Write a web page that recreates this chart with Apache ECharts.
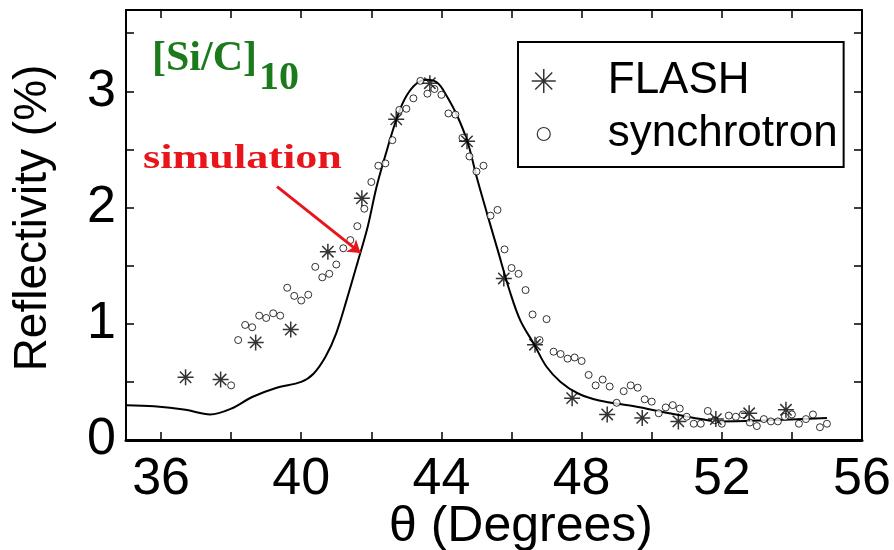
<!DOCTYPE html>
<html>
<head>
<meta charset="utf-8">
<script src="https://cdn.jsdelivr.net/npm/echarts@6/dist/echarts.min.js"></script>
<style>
  html, body { margin: 0; padding: 0; background: #fff; }
  #chart { width: 894px; height: 550px; }
</style>
</head>
<body>
<div id="chart"></div>
<script>
// ---- data ----
const flashX = [36.7, 37.7, 38.7, 39.7, 40.76, 41.73, 42.71, 43.67, 44.73, 45.78, 46.67, 47.73, 48.73, 49.73, 50.76, 51.83, 52.78, 53.83];
const flashY = [0.54, 0.52, 0.84, 0.95, 1.62, 2.08, 2.76, 3.07, 2.57, 1.39, 0.82, 0.36, 0.22, 0.19, 0.16, 0.18, 0.23, 0.26];

const syncX = [38.0, 38.2, 38.4, 38.6, 38.8, 39.0, 39.2, 39.4, 39.6, 39.8, 40.0, 40.2, 40.4, 40.6, 40.8, 41.0, 41.2, 41.4, 41.6, 41.8,
               42.0, 42.2, 42.4, 42.6, 42.8, 43.0, 43.2, 43.4, 43.6, 43.8, 44.0, 44.2, 44.4, 44.6, 44.8, 45.0, 45.2, 45.4, 45.6, 45.8,
               46.0, 46.2, 46.4, 46.6, 46.8, 47.0, 47.2, 47.4, 47.6, 47.8, 48.0, 48.2, 48.4, 48.6, 48.8, 49.0, 49.2, 49.4, 49.6, 49.8,
               50.0, 50.2, 50.4, 50.6, 50.8, 51.0, 51.2, 51.4, 51.6, 51.8, 52.0, 52.2, 52.4, 52.6, 52.8, 53.0, 53.2, 53.4, 53.6, 53.8,
               54.0, 54.2, 54.4, 54.6, 54.8, 55.0];
const syncY = [0.47, 0.86, 0.99, 0.97, 1.07, 1.05, 1.09, 1.07, 1.31, 1.24, 1.20, 1.25, 1.49, 1.40, 1.43, 1.51, 1.65, 1.72, 1.84, 1.99,
               2.22, 2.36, 2.38, 2.58, 2.84, 2.85, 2.94, 3.09, 2.98, 3.02, 2.97, 2.81, 2.80, 2.60, 2.44, 2.31, 2.36, 1.93, 1.98, 1.64,
               1.48, 1.43, 1.29, 1.08, 0.86, 1.04, 0.76, 0.74, 0.70, 0.71, 0.68, 0.56, 0.47, 0.52, 0.46, 0.32, 0.42, 0.47, 0.45, 0.35,
               0.33, 0.23, 0.28, 0.30, 0.27, 0.20, 0.14, 0.14, 0.25, 0.17, 0.14, 0.21, 0.20, 0.22, 0.15, 0.12, 0.18, 0.16, 0.16, 0.20,
               0.22, 0.14, 0.18, 0.22, 0.11, 0.14];

const simX = [35.0, 35.8, 36.7, 37.4, 38.0, 38.6, 39.3, 40.0, 40.35, 40.7, 41.0, 41.3, 41.6, 41.9, 42.15, 42.45, 42.75, 43.0, 43.3, 43.6,
              43.9, 44.15, 44.45, 44.75, 45.0, 45.3, 45.6, 45.95, 46.25, 46.65, 47.0, 47.4, 47.9, 48.5, 49.5, 50.5, 51.4, 51.9, 53.3, 55.0];
const simY = [0.30, 0.29, 0.26, 0.22, 0.27, 0.37, 0.45, 0.50, 0.57, 0.72, 0.92, 1.21, 1.52, 1.84, 2.18, 2.50, 2.79, 2.96, 3.07, 3.10,
              3.07, 2.96, 2.79, 2.56, 2.27, 1.95, 1.64, 1.28, 1.03, 0.82, 0.63, 0.50, 0.40, 0.34, 0.29, 0.23, 0.18, 0.16, 0.17, 0.19];

const xTicks = [36, 38, 40, 42, 44, 46, 48, 50, 52, 54, 56];
const xTickLabels = [36, 40, 44, 48, 52, 56];
const yTicks = [0, 0.5, 1, 1.5, 2, 2.5, 3, 3.5];
const yTickLabels = [0, 1, 2, 3];

const seriesNames = ['FLASH', 'synchrotron'];
const arrowFrom = [39.31, 2.18];
const arrowTo = [41.69, 1.61];

// ---- chart ----
const zip = (xs, ys) => xs.map((x, i) => [x, ys[i]]);
const asterisk = 'path://M12,0 L12,24 M0,12 L24,12 M3.5,3.5 L20.5,20.5 M3.5,20.5 L20.5,3.5';
const smallCircle = 'path://M0,0 M24,24 M5.5,12 A6.5,6.5 0 1,0 18.5,12 A6.5,6.5 0 1,0 5.5,12 Z';
const SANS = 'Liberation Sans, Arial, sans-serif';
const SERIF = 'Liberation Serif, Times New Roman, serif';

const chart = echarts.init(document.getElementById('chart'), null, { renderer: 'canvas' });

function tickStyle(values) {
  return { show: true, inside: true, length: 8, customValues: values, lineStyle: { color: '#000', width: 1.5 } };
}
const lineStyleAxis = (w) => ({ show: true, onZero: false, lineStyle: { color: '#000', width: w } });

const option = {
  animation: false,
  backgroundColor: '#fff',
  grid: { left: 126, right: 32, top: 10, bottom: 110, containLabel: false },
  xAxis: [
    {
      type: 'value', min: 35, max: 56, position: 'bottom',
      axisLine: lineStyleAxis(3), axisTick: tickStyle(xTicks), splitLine: { show: false },
      axisLabel: { customValues: xTickLabels, margin: 14, color: '#000', fontSize: 52, fontFamily: SANS }
    },
    {
      type: 'value', min: 35, max: 56, position: 'top',
      axisLine: lineStyleAxis(2), axisTick: tickStyle(xTicks), splitLine: { show: false },
      axisLabel: { show: false }
    }
  ],
  yAxis: [
    {
      type: 'value', min: 0, max: 3.7, position: 'left',
      axisLine: lineStyleAxis(2), axisTick: tickStyle(yTicks), splitLine: { show: false },
      axisLabel: { customValues: yTickLabels, margin: 10, color: '#000', fontSize: 52, fontFamily: SANS }
    },
    {
      type: 'value', min: 0, max: 3.7, position: 'right',
      axisLine: lineStyleAxis(2), axisTick: tickStyle(yTicks), splitLine: { show: false },
      axisLabel: { show: false }
    }
  ],
  legend: {
    show: true,
    orient: 'vertical',
    left: 518, top: 42,
    padding: [17, 6, 11, 13],
    borderColor: '#000', borderWidth: 2,
    itemWidth: 24, itemHeight: 24, itemGap: 9,
    textStyle: { color: '#000', fontSize: 44, fontFamily: SANS, lineHeight: 44, padding: [0, 0, 0, 47] },
    data: [
      { name: seriesNames[0], icon: asterisk, itemStyle: { color: 'transparent', borderColor: '#000', borderWidth: 1.5 } },
      { name: seriesNames[1], icon: smallCircle, itemStyle: { color: '#fff', borderColor: '#000', borderWidth: 1.2 } }
    ],
    selectedMode: false
  },
  series: [
    {
      name: 'simulation', type: 'line', xAxisIndex: 0, yAxisIndex: 0,
      data: zip(simX, simY), smooth: 0.35, showSymbol: false, symbol: 'none',
      lineStyle: { color: '#000', width: 2 }, z: 2,
      markLine: {
        silent: true, animation: false,
        symbol: ['none', 'arrow'], symbolSize: 12,
        label: { show: false },
        lineStyle: { color: '#e8161b', width: 3, type: 'solid' },
        itemStyle: { color: '#e8161b' },
        data: [[{ coord: arrowFrom }, { coord: arrowTo }]]
      }
    },
    {
      name: seriesNames[1], type: 'scatter', xAxisIndex: 0, yAxisIndex: 0,
      data: zip(syncX, syncY), symbol: 'circle', symbolSize: 7,
      itemStyle: { color: '#fff', borderColor: '#000', borderWidth: 1 }, z: 3
    },
    {
      name: seriesNames[0], type: 'scatter', xAxisIndex: 0, yAxisIndex: 0,
      data: zip(flashX, flashY), symbol: asterisk, symbolSize: 16,
      itemStyle: { color: 'transparent', borderColor: '#000', borderWidth: 1.5 }, z: 4
    }
  ],
  graphic: [
    { type: 'text', x: 152, y: 59, style: { text: '[Si/C]', fill: '#1b7a1b', font: 'bold 42px ' + SERIF, textAlign: 'left', textVerticalAlign: 'middle' } },
    { type: 'text', x: 259, y: 79, style: { text: '10', fill: '#1b7a1b', font: 'bold 40px ' + SERIF, textAlign: 'left', textVerticalAlign: 'middle' } },
    { type: 'text', x: 143, y: 159, scaleX: 1.3, style: { text: 'simulation', x: 0, y: 0, fill: '#e8161b', font: 'bold 34px ' + SERIF, textAlign: 'left', textVerticalAlign: 'middle' } },
    { type: 'text', x: 33, y: 218, rotation: Math.PI / 2, style: { text: 'Reflectivity (%)', x: 0, y: 0, fill: '#000', font: '46px ' + SANS, textAlign: 'center', textVerticalAlign: 'middle' } },
    { type: 'text', x: 521, y: 527, style: { text: 'θ (Degrees)', x: 0, y: 0, fill: '#000', font: '50px ' + SANS, textAlign: 'center', textVerticalAlign: 'middle' } }
  ]
};

chart.setOption(option);
</script>
</body>
</html>
